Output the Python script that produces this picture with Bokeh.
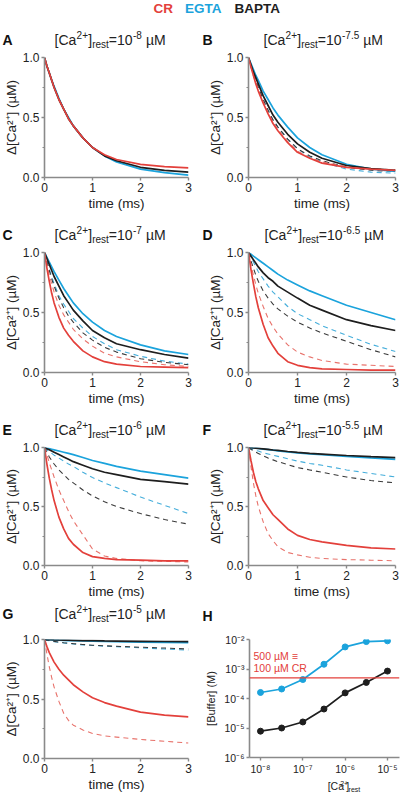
from bokeh.plotting import figure
from bokeh.models import Range1d, FixedTicker, PrintfTickFormatter, Span
from bokeh.layouts import column, row
from bokeh.embed import file_html
from bokeh.resources import INLINE
from bokeh.core.properties import value

FONT = "Liberation Sans"
RED = "#e3403b"
BLUE = "#1ba3dc"
BLACK = "#1e1e1e"
RED_D = "#e8736c"
BLUE_D = "#45aedb"
BLACK_D = "#3a3a3a"
AXIS = "#8a8a8a"

# ---------------- data ----------------
t_ms = [0, 0.05, 0.1, 0.15, 0.2, 0.3, 0.4, 0.5, 0.6, 0.8, 1.0, 1.25, 1.5, 2.0, 2.5, 3.0]

a_egta = [1, .93, .87, .81, .76, .66, .57, .50, .43, .33, .25, .18, .13, .07, .04, .02]
a_bapta = [1, .93, .87, .81, .75, .65, .57, .49, .43, .33, .25, .18, .14, .085, .06, .045]
a_cr = [1, .93, .87, .81, .75, .65, .57, .49, .43, .33, .25, .19, .15, .11, .09, .08]

b_egta = [1, .95, .90, .85, .81, .72, .65, .58, .52, .42, .33, .25, .19, .11, .07, .05]
b_bapta = [1, .94, .88, .83, .78, .68, .60, .52, .46, .36, .28, .21, .16, .10, .075, .06]
b_cr = [1, .92, .85, .78, .72, .62, .53, .45, .39, .29, .21, .16, .12, .085, .07, .06]
b_egta_d = [1, .93, .86, .80, .75, .65, .56, .48, .42, .32, .24, .17, .13, .07, .045, .035]
b_bapta_d = [1, .93, .86, .80, .75, .65, .56, .48, .42, .32, .24, .18, .14, .085, .06, .05]
b_cr_d = [1, .92, .85, .79, .73, .63, .54, .46, .40, .30, .22, .165, .13, .09, .075, .065]

c_egta = [1, .96, .92, .88, .84, .77, .70, .64, .58, .49, .42, .35, .30, .23, .18, .15]
c_bapta = [1, .95, .90, .85, .80, .72, .64, .58, .52, .43, .35, .29, .24, .19, .15, .12]
c_cr = [1, .87, .76, .66, .58, .46, .37, .31, .26, .18, .13, .09, .07, .05, .045, .04]
c_egta_d = [1, .93, .86, .80, .74, .64, .57, .51, .45, .37, .30, .24, .19, .135, .095, .07]
c_bapta_d = [1, .92, .85, .78, .72, .62, .54, .47, .42, .33, .27, .21, .17, .115, .085, .065]
c_cr_d = [1, .90, .81, .74, .67, .56, .48, .42, .36, .28, .22, .16, .13, .09, .065, .05]

d_egta = [1, .985, .97, .955, .94, .91, .88, .85, .82, .77, .73, .68, .64, .56, .50, .44]
d_bapta = [1, .97, .94, .91, .88, .83, .79, .76, .72, .67, .62, .56, .52, .44, .39, .35]
d_cr = [1, .86, .74, .63, .54, .40, .29, .22, .16, .09, .06, .04, .03, .025, .02, .02]
d_egta_d = [1, .96, .92, .88, .84, .78, .72, .67, .63, .55, .49, .44, .39, .31, .235, .175]
d_bapta_d = [1, .93, .87, .81, .76, .68, .62, .57, .53, .47, .42, .37, .33, .26, .19, .13]
d_cr_d = [1, .90, .81, .73, .66, .55, .45, .38, .32, .23, .17, .13, .10, .07, .06, .05]

e_egta = [1, .995, .99, .985, .98, .97, .96, .95, .94, .915, .89, .865, .84, .80, .77, .74]
e_bapta = [1, .99, .98, .97, .96, .94, .92, .90, .88, .85, .82, .79, .77, .73, .71, .69]
e_cr = [1, .86, .74, .64, .55, .41, .31, .23, .18, .11, .075, .06, .05, .045, .04, .04]
e_egta_d = [1, .98, .965, .95, .935, .91, .885, .86, .84, .79, .745, .70, .66, .58, .51, .44]
e_bapta_d = [1, .96, .92, .89, .86, .81, .77, .73, .70, .64, .59, .54, .50, .44, .39, .35]
e_cr_d = [1, .94, .87, .81, .75, .64, .55, .46, .38, .26, .14, .08, .06, .04, .035, .03]

f_egta = [1, .998, .996, .994, .992, .987, .982, .977, .972, .963, .955, .946, .94, .925, .912, .90]
f_bapta = [1, .998, .996, .994, .992, .988, .984, .979, .975, .966, .958, .95, .944, .932, .922, .915]
f_cr = [1, .89, .79, .71, .65, .55, .49, .43, .39, .31, .255, .22, .20, .17, .15, .14]
f_egta_d = [1, .99, .98, .975, .97, .955, .945, .935, .925, .905, .885, .865, .85, .81, .78, .75]
f_bapta_d = [1, .985, .97, .96, .95, .93, .91, .895, .88, .855, .83, .81, .79, .75, .72, .70]
f_cr_d = [1, .84, .70, .59, .50, .37, .27, .21, .16, .11, .09, .07, .06, .05, .045, .04]

g_egta = [1, .999, .998, .997, .996, .994, .993, .991, .99, .988, .986, .983, .981, .978, .975, .973]
g_bapta = [1, .999, .998, .998, .997, .996, .995, .994, .993, .991, .99, .988, .987, .985, .983, .982]
g_cr = [1, .94, .89, .85, .81, .75, .70, .66, .62, .56, .51, .47, .44, .39, .365, .35]
g_egta_d = [1, .995, .99, .986, .982, .976, .971, .966, .962, .955, .95, .944, .94, .93, .92, .91]
g_bapta_d = [1, .995, .991, .987, .984, .978, .973, .969, .965, .958, .952, .947, .943, .935, .928, .92]
g_cr_d = [1, .88, .77, .68, .60, .48, .38, .32, .28, .24, .21, .19, .18, .16, .145, .13]

panel_letters = ["A", "B", "C", "D", "E", "F", "G", "H"]
rest_exponents = ["-8", "-7.5", "-7", "-6.5", "-6", "-5.5", "-5"]

ca_rest = [1e-8, 3.16e-8, 1e-7, 3.16e-7, 1e-6, 3.16e-6, 1e-5]
egta_buffer = [1.6e-4, 2.1e-4, 4.4e-4, 1.45e-3, 5.6e-3, 8.5e-3, 9.0e-3]
bapta_buffer = [7.8e-6, 1.0e-5, 1.6e-5, 4.4e-5, 1.55e-4, 3.5e-4, 8.5e-4]
cr_equivalent = 5e-4

h_xticks = [1e-8, 1e-7, 1e-6, 1e-5]
h_xlabels = ["10⁻⁸", "10⁻⁷", "10⁻⁶", "10⁻⁵"]
h_yticks = [1e-6, 1e-5, 1e-4, 1e-3, 1e-2]
h_ylabels = ["10⁻⁶", "10⁻⁵", "10⁻⁴", "10⁻³", "10⁻²"]

header_words = ["CR", "EGTA", "BAPTA"]
cr_note = ["500 µM ≡", "100 µM CR"]

# ---------------- helpers ----------------
AW = {'[': 278, ']': 278, 'C': 722, 'a': 556, '2': 556, '+': 584, 'r': 333, 'e': 556,
      's': 500, 't': 278, '=': 584, '1': 556, '0': 556, '-': 333, '.': 278, '5': 556,
      '7': 556, '8': 556, '6': 556, ' ': 278, 'µ': 576, 'M': 833}
MID = 0.35  # text centre above the baseline, in em


def tw(s, size):
    return sum(AW.get(c, 556) for c in s) * size / 1000.0


def strip(width, height):
    s = figure(width=width, height=height, x_range=Range1d(0, width), y_range=Range1d(0, height),
               toolbar_location=None, output_backend="svg", min_border=0,
               x_axis_location=None, y_axis_location=None)
    s.grid.visible = False
    s.outline_line_color = None
    s.background_fill_color = None
    s.border_fill_color = None
    return s


def put(s, x, base_from_top, txt, size, color="#222222", bold=False):
    h = s.height
    s.text(x=[x], y=[h - base_from_top + MID * size], text=[txt], text_font=value(FONT),
           text_font_size=f"{size}px", text_font_style="bold" if bold else "normal",
           text_color=color, text_baseline="middle", text_align="left")


def rich(s, x, base_from_top, pieces, color="#222222"):
    off = x
    for txt, size, rise, gap in pieces:
        off += gap
        put(s, off, base_from_top - rise, txt, size, color)
        off += tw(txt, size)


def title_pieces(expo):
    return [("[Ca", 14, 0, 0), ("2+", 10, 6, 0.3), ("]", 14, 0, 0.3), ("rest", 10, -3, 0),
            ("=10", 14, 0, 0), (expo, 10, 6, 0.4), ("µM", 14, 0, 4)]


def title_strip(height, base, entries):
    s = strip(400, height)
    for idx, lx, tx in entries:
        put(s, lx, base, panel_letters[idx], 14, "#111111", True)
        rich(s, tx, base, title_pieces(rest_exponents[idx]))
    return s


def style_axis(ax, label_size="12px"):
    ax.axis_line_color = AXIS
    ax.axis_line_width = 1.6
    ax.major_tick_line_color = AXIS
    ax.major_tick_line_width = 1.4
    ax.major_tick_in = 0
    ax.major_tick_out = 3
    ax.minor_tick_line_color = AXIS
    ax.minor_tick_line_width = 1.2
    ax.minor_tick_in = 0
    ax.minor_tick_out = 2
    ax.major_label_text_font = FONT
    ax.major_label_text_font_size = label_size
    ax.major_label_text_color = "#222222"
    ax.major_label_standoff = 2
    ax.axis_label_text_font = FONT
    ax.axis_label_text_font_style = "normal"
    ax.axis_label_text_color = "#222222"
    ax.axis_label_standoff = 1


FRAME_H = 120


def curve_panel(curves, left, top, bottom):
    bl, br = (41, 12) if left else (48, 5)
    p = figure(width=200, height=top + FRAME_H + bottom, x_range=Range1d(0, 3), y_range=Range1d(0, 1),
               toolbar_location=None, output_backend="svg",
               min_border_left=bl, min_border_right=br, min_border_top=top, min_border_bottom=bottom)
    p.outline_line_color = None
    p.grid.visible = False
    style_axis(p.xaxis[0])
    style_axis(p.yaxis[0])
    p.xaxis.ticker = FixedTicker(ticks=[0, 1, 2, 3], minor_ticks=[])
    p.yaxis.ticker = FixedTicker(ticks=[0, 0.5, 1.0], minor_ticks=[0.25, 0.75])
    p.yaxis.formatter = PrintfTickFormatter(format="%.1f")
    p.xaxis.axis_label = "time (ms)"
    p.yaxis.axis_label = "Δ[Ca²⁺] (µM)"
    p.xaxis.axis_label_text_font_size = "13.5px"
    p.yaxis.axis_label_text_font_size = "13.5px"

    order = [("egta_d", BLUE_D, "5 4", 1.1), ("bapta_d", BLACK_D, "5 4", 1.1), ("cr_d", RED_D, "5 4", 1.1),
             ("egta", BLUE, "solid", 1.7), ("bapta", BLACK, "solid", 1.7), ("cr", RED, "solid", 1.7)]
    for key, col, dash, w in order:
        if key in curves:
            p.line(t_ms, curves[key], line_color=col, line_width=w, line_dash=dash)
    return p


# ---------------- header ----------------
hdr = strip(400, 20)
for word, hx_, col in zip(header_words, [153, 184.5, 234], [RED, BLUE, BLACK]):
    put(hdr, hx_, 13, word, 13.5, col, True)

# ---------------- rows ----------------
s1 = title_strip(30, 24, [(0, 2, 54), (1, 202, 263)])
pa = curve_panel(dict(egta=a_egta, bapta=a_bapta, cr=a_cr), True, 7, 45)
pb = curve_panel(dict(egta=b_egta, bapta=b_bapta, cr=b_cr, egta_d=b_egta_d, bapta_d=b_bapta_d, cr_d=b_cr_d),
                 False, 7, 45)

s2 = title_strip(23, 17, [(2, 2, 54), (3, 202, 264)])
pc = curve_panel(dict(egta=c_egta, bapta=c_bapta, cr=c_cr, egta_d=c_egta_d, bapta_d=c_bapta_d, cr_d=c_cr_d),
                 True, 7, 44)
pd_ = curve_panel(dict(egta=d_egta, bapta=d_bapta, cr=d_cr, egta_d=d_egta_d, bapta_d=d_bapta_d, cr_d=d_cr_d),
                  False, 7, 44)

s3 = title_strip(24, 18, [(4, 2, 54), (5, 202, 263)])
pe = curve_panel(dict(egta=e_egta, bapta=e_bapta, cr=e_cr, egta_d=e_egta_d, bapta_d=e_bapta_d, cr_d=e_cr_d),
                 True, 7, 34)
pf = curve_panel(dict(egta=f_egta, bapta=f_bapta, cr=f_cr, egta_d=f_egta_d, bapta_d=f_bapta_d, cr_d=f_cr_d),
                 False, 7, 34)

s4 = title_strip(23, 17, [(6, 2, 54)])
put(s4, 202, 19, panel_letters[7], 14, "#111111", True)
pg = curve_panel(dict(egta=g_egta, bapta=g_bapta, cr=g_cr, egta_d=g_egta_d, bapta_d=g_bapta_d, cr_d=g_cr_d),
                 True, 15, 35)

# ---------------- panel H ----------------
x_lo, x_hi = 10 ** -8.26, 10 ** -4.716
ph = figure(width=200, height=15 + FRAME_H + 18, x_axis_type="log", y_axis_type="log",
            x_range=Range1d(x_lo, x_hi), y_range=Range1d(1e-6, 1e-2),
            toolbar_location=None, output_backend="svg",
            min_border_left=49, min_border_right=1, min_border_top=15, min_border_bottom=18)
ph.outline_line_color = None
ph.grid.visible = False
style_axis(ph.xaxis[0], "10.5px")
style_axis(ph.yaxis[0], "10.5px")
ph.xaxis.ticker = FixedTicker(ticks=h_xticks, minor_ticks=[])
ph.yaxis.ticker = FixedTicker(ticks=h_yticks, minor_ticks=[])
ph.xaxis.major_label_overrides = dict(zip(h_xticks, h_xlabels))
ph.yaxis.major_label_overrides = dict(zip(h_yticks, h_ylabels))
ph.yaxis.axis_label = "[Buffer] (M)"
ph.yaxis.axis_label_text_font_size = "11px"
ph.yaxis.axis_label_standoff = 4

ph.add_layout(Span(location=cr_equivalent, dimension="width", line_color=RED, line_width=1.3))
ph.line(ca_rest, egta_buffer, line_color=BLUE, line_width=1.7)
ph.scatter(ca_rest, egta_buffer, size=6, fill_color=BLUE, line_color=BLUE)
ph.line(ca_rest, bapta_buffer, line_color=BLACK, line_width=1.7)
ph.scatter(ca_rest, bapta_buffer, size=6, fill_color=BLACK, line_color=BLACK)

# red note anchored at the frame's top-left corner, offset in pixels
ph.text(x=[x_lo, x_lo], y=[1e-2, 1e-2], text=cr_note, x_offset=4,
        y_offset=[20 - MID * 10.5, 32 - MID * 10.5],
        text_font=value(FONT), text_font_size="10.5px", text_color=RED,
        text_baseline="middle", text_align="left")

hx = strip(200, 17)
xl_pieces = [("[Ca", 10.5, 0, 0), ("2+", 7, 4, 0.3), ("]", 10.5, 0, 0.3), ("rest", 7, -2, 0)]
xl_w = sum(tw(s, z) + g for s, z, _, g in xl_pieces)
rich(hx, 124 - xl_w / 2, 12, xl_pieces)

layout = column(hdr, s1, row(pa, pb), s2, row(pc, pd_), s3, row(pe, pf), s4, row(pg, column(ph, hx)))
open("out.html", "w").write(file_html(layout, INLINE))
